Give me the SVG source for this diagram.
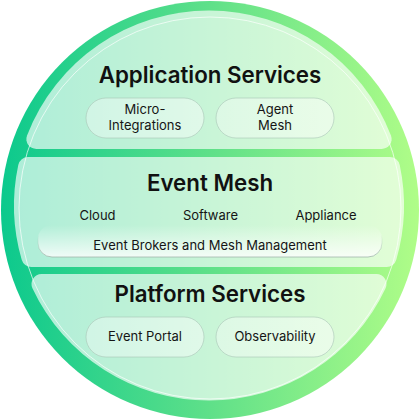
<svg xmlns="http://www.w3.org/2000/svg" width="420" height="420" viewBox="0 0 420 420">
<defs>
<linearGradient id="ring" x1="0" y1="0" x2="1" y2="0">
<stop offset="0" stop-color="#0cc98d"/>
<stop offset="0.5" stop-color="#5fe089"/>
<stop offset="1" stop-color="#b0fd88"/>
</linearGradient>
<linearGradient id="bar" x1="0" y1="0" x2="0" y2="1">
<stop offset="0" stop-color="#ffffff" stop-opacity="0"/>
<stop offset="1" stop-color="#ffffff" stop-opacity="0.8"/>
</linearGradient>
<linearGradient id="barStroke" x1="0" y1="0" x2="0" y2="1">
<stop offset="0.3" stop-color="#9fb5aa" stop-opacity="0"/>
<stop offset="1" stop-color="#9fb5aa" stop-opacity="0.8"/>
</linearGradient>
<linearGradient id="pillFill" x1="0" y1="0" x2="1" y2="0">
<stop offset="0" stop-color="#ffffff" stop-opacity="0.35"/>
<stop offset="1" stop-color="#ffffff" stop-opacity="0.45"/>
</linearGradient>
</defs>
<style>
.panel{fill:#ffffff;fill-opacity:0.66}
.pill{fill:url(#pillFill);stroke:#a9c4b6;stroke-opacity:0.6;stroke-width:1}
.h{font-family:Inter,"Open Sans","Liberation Sans",sans-serif;font-weight:600;font-size:22.3px;fill:#111111;text-anchor:middle}
.t{font-family:Inter,"Open Sans","Liberation Sans",sans-serif;font-weight:400;font-size:13px;fill:#151515;text-anchor:middle}
</style>
<circle cx="210" cy="210" r="209" fill="url(#ring)"/>
<g id="layer-application">
<path class="panel" d="M27.04,135.41 A195,195 0 0 1 390.96,135.41 A10,10 0 0 1 381.63,149 L36.37,149 A10,10 0 0 1 27.04,135.41 Z"/>
<text class="h" x="210" y="83">Application Services</text>
</g>
<g id="layer-event-mesh">
<path class="panel" d="M28.05,157 L389.950,157 A10,10 0 0 1 399.73,164.92 A195,195 0 0 1 396.29,259.78 A10,10 0 0 1 386.69,267 L31.31,267 A10,10 0 0 1 21.71,259.78 A195,195 0 0 1 18.27,164.92 A10,10 0 0 1 28.05,157 Z"/>
<text class="h" x="210" y="191">Event Mesh</text>
</g>
<g id="layer-platform">
<path class="panel" d="M41.48,274 L376.52,274 A10,10 0 0 1 385.58,288.24 A195,195 0 0 1 32.42,288.24 A10,10 0 0 1 41.48,274 Z"/>
<text class="h" x="210" y="302">Platform Services</text>
</g>
<circle cx="210" cy="208" r="191" fill="none" stroke="#ffffff" stroke-opacity="0.85" stroke-width="0.8"/>
<g id="node-micro-integrations">
<rect class="pill" x="86" y="98" width="118" height="40" rx="20"/>
<text class="t" x="145" y="114">Micro-</text>
<text class="t" x="145" y="130">Integrations</text>
</g>
<g id="node-agent-mesh">
<rect class="pill" x="216" y="98" width="118" height="40" rx="20"/>
<text class="t" x="275" y="114">Agent</text>
<text class="t" x="275" y="130">Mesh</text>
</g>
<g id="node-cloud"><text class="t" x="97.5" y="220">Cloud</text></g>
<g id="node-software"><text class="t" x="210.5" y="220">Software</text></g>
<g id="node-appliance"><text class="t" x="326" y="220">Appliance</text></g>
<g id="node-event-brokers">
<rect x="38" y="225" width="344" height="32" rx="14" fill="url(#bar)" stroke="url(#barStroke)" stroke-width="1"/>
<text class="t" x="210" y="250">Event Brokers and Mesh Management</text>
</g>
<g id="node-event-portal">
<rect class="pill" x="86" y="317" width="118" height="40" rx="20"/>
<text class="t" x="145" y="341">Event Portal</text>
</g>
<g id="node-observability">
<rect class="pill" x="216" y="317" width="118" height="40" rx="20"/>
<text class="t" x="275" y="341">Observability</text>
</g>
</svg>
